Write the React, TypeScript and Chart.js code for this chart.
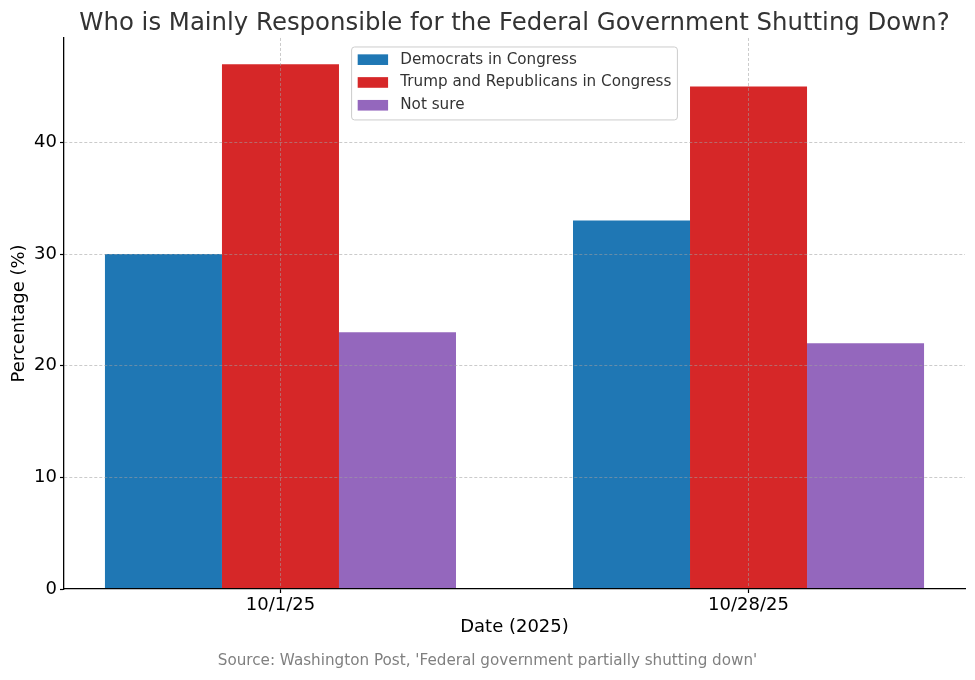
import React, { useEffect, useRef } from "react";
import { Chart, registerables } from "chart.js";

Chart.register(...registerables);

const TITLE = "Who is Mainly Responsible for the Federal Government Shutting Down?";
const SOURCE = "Source: Washington Post, 'Federal government partially shutting down'";
const X_LABEL = "Date (2025)";
const Y_LABEL = "Percentage (%)";

const dates = ["10/1/25", "10/28/25"];
const seriesNames = ["Democrats in Congress", "Trump and Republicans in Congress", "Not sure"];
const democrats = [30, 33];
const republicans = [47, 45];
const notSure = [23, 22];
const seriesColors = ["#1f77b4", "#d62728", "#9467bd"];
const yTicks = [0, 10, 20, 30, 40];

const FONT = '"DejaVu Sans", "Liberation Sans", sans-serif';

const allSeries = [democrats, republicans, notSure];
const yMax = Math.max(...allSeries.flat()) * 1.05;
const groupFrac = 0.75;
const xSpan = dates.length - 1 + groupFrac;
const xMin = -groupFrac / 2 - 0.05 * xSpan;
const xMax = dates.length - 1 + groupFrac / 2 + 0.05 * xSpan;

const GRID_COLOR = "rgba(160,160,160,0.55)";

const boxLegend = {
  id: "boxLegend",
  afterDraw(chart: any) {
    const { ctx, chartArea } = chart;
    const f = 15.2;
    const n = chart.data.datasets.length;
    ctx.save();
    ctx.font = `${f}px ${FONT}`;
    const textW = Math.max(...chart.data.datasets.map((d: any) => ctx.measureText(d.label).width));
    const pad = 0.4 * f;
    const handle = 2 * f;
    const gap = 0.8 * f;
    const spacing = 0.5 * f;
    const w = pad * 2 + handle + gap + textW;
    const h = pad * 2 + n * f + (n - 1) * spacing;
    const x = (chartArea.left + chartArea.right) / 2 - w / 2;
    const y = chartArea.top + 9;
    ctx.beginPath();
    ctx.roundRect(x, y, w, h, 3);
    ctx.fillStyle = "rgba(255,255,255,0.8)";
    ctx.fill();
    ctx.lineWidth = 1;
    ctx.strokeStyle = "#cccccc";
    ctx.stroke();
    chart.data.datasets.forEach((d: any, i: number) => {
      const cy = y + pad + f / 2 - 1 + i * (f + spacing);
      ctx.fillStyle = d.backgroundColor;
      ctx.fillRect(x + pad, cy - 0.35 * f, handle, 0.7 * f);
      ctx.fillStyle = "#333333";
      ctx.textBaseline = "middle";
      ctx.textAlign = "left";
      ctx.fillText(d.label, x + pad + handle + gap, cy);
    });
    ctx.restore();
  },
};

const sourceNote = {
  id: "sourceNote",
  afterDraw(chart: any) {
    const { ctx } = chart;
    ctx.save();
    ctx.font = `15.2px ${FONT}`;
    ctx.fillStyle = "#808080";
    ctx.textAlign = "center";
    ctx.textBaseline = "middle";
    ctx.fillText(SOURCE, chart.width / 2, chart.height - 19);
    ctx.restore();
  },
};

export default function App() {
  const ref = useRef<HTMLCanvasElement | null>(null);

  useEffect(() => {
    if (!ref.current) return;
    const chart = new Chart(ref.current, {
      type: "bar",
      data: {
        datasets: seriesNames.map((name, i) => ({
          label: name,
          data: dates.map((_, j) => ({ x: j, y: allSeries[i][j] })),
          backgroundColor: seriesColors[i],
          borderWidth: 0,
          categoryPercentage: groupFrac,
          barPercentage: 1,
        })),
      } as any,
      options: {
        responsive: false,
        animation: false,
        layout: { padding: { left: 0, right: 10, top: 0, bottom: 27.6 } },
        plugins: {
          legend: { display: false },
          tooltip: { enabled: false },
          title: {
            display: true,
            text: TITLE,
            fullSize: false,
            color: "#333333",
            font: { family: FONT, size: 24.4, weight: "normal", lineHeight: 1.2 },
            padding: { top: 8.7, bottom: 0 },
          },
        },
        scales: {
          x: {
            type: "linear",
            min: xMin,
            max: xMax,
            offset: false,
            afterBuildTicks: (s: any) => {
              s.ticks = dates.map((_, i) => ({ value: i }));
            },
            afterFit: (s: any) => {
              s.height = 63.4;
            },
            ticks: {
              callback: (v: any) => dates[v] ?? "",
              color: "#000000",
              font: { family: FONT, size: 18 },
              padding: 2,
              maxRotation: 0,
              autoSkip: false,
            },
            grid: {
              offset: false,
              color: GRID_COLOR,
              lineWidth: 1,
              drawTicks: true,
              tickLength: 4,
              tickColor: "#000000",
              tickWidth: 1.2,
              z: 1,
            },
            border: { display: true, color: "#000000", width: 1.3, dash: [3, 2], z: 1 },
            title: {
              display: true,
              text: X_LABEL,
              color: "#000000",
              font: { family: FONT, size: 18 },
              padding: { top: 0, bottom: 14.6 },
            },
          },
          y: {
            min: 0,
            max: yMax,
            afterBuildTicks: (s: any) => {
              s.ticks = yTicks.map((v) => ({ value: v }));
            },
            afterFit: (s: any) => {
              s.width = 64;
            },
            ticks: {
              color: "#000000",
              font: { family: FONT, size: 18 },
              padding: 3,
            },
            grid: {
              color: (c: any) => (c.tick && c.tick.value === 0 ? "rgba(0,0,0,0)" : GRID_COLOR),
              lineWidth: 1,
              drawTicks: true,
              tickLength: 4,
              tickColor: "#000000",
              tickWidth: 1.2,
              z: 1,
            },
            border: { display: true, color: "#000000", width: 1.3, dash: [3, 2], z: 1 },
            title: {
              display: true,
              text: Y_LABEL,
              color: "#000000",
              font: { family: FONT, size: 18 },
              padding: { top: 8.2, bottom: 0 },
            },
          },
        },
      } as any,
      plugins: [boxLegend, sourceNote],
    });
    return () => chart.destroy();
  }, []);

  return (
    <div style={{ position: "absolute", left: 0, top: 0, width: 975, height: 680, background: "#ffffff" }}>
      <canvas ref={ref} width={975} height={680} />
    </div>
  );
}
